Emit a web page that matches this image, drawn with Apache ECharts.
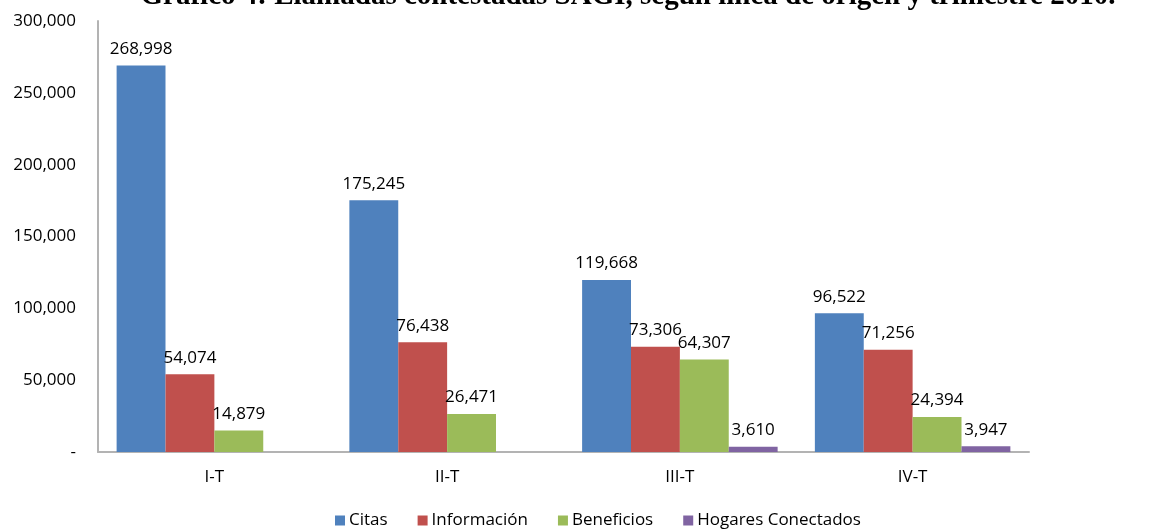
<!DOCTYPE html>
<html>
<head>
    <meta charset="utf-8">
    <title></title>
    <style>
        html,body{ margin:0; padding:0; background:#fff; }
    </style>
</head>
<body>
<script src="https://cdn.jsdelivr.net/npm/echarts@6/dist/echarts.min.js"></script>
<div id="main" style="width:1153px;height:529px;"></div>
<script type="text/javascript">
    // datos
    var trimestres = ['I-T', 'II-T', 'III-T', 'IV-T'];
    var citas = [268998, 175245, 119668, 96522];
    var informacion = [54074, 76438, 73306, 71256];
    var beneficios = [14879, 26471, 64307, 24394];
    var hogares = [null, null, 3610, 3947];

    var fuente = 'Open Sans';
    var fmt = function (v) {
        return v === 0 ? '-' : v.toLocaleString('en-US');
    };

    function serie(nombre, datos, color) {
        return {
            name: nombre,
            type: 'bar',
            data: datos,
            barGap: 0,
            barCategoryGap: '16%',
            itemStyle: { color: color },
            label: {
                show: true,
                position: 'top',
                distance: 8,
                color: '#000',
                fontFamily: fuente,
                fontSize: 17,
                formatter: function (p) { return fmt(p.value); }
            }
        };
    }

    var myChart = echarts.init(document.getElementById('main'));
    myChart.setOption({
        animation: false,
        title: {
            text: 'Gráfico 4: Llamadas contestadas SAGI, según línea de origen y trimestre 2010.',
            left: 623,
            textAlign: 'center',
            top: -23,
            textStyle: {
                fontFamily: 'Liberation Serif',
                fontWeight: 'bold',
                fontSize: 29,
                color: '#000'
            }
        },
        legend: {
            bottom: -5,
            left: 330,
            itemWidth: 10,
            itemHeight: 10,
            itemGap: 30,
            icon: 'rect',
            textStyle: { fontFamily: fuente, fontSize: 17, color: '#000', padding: [0, 0, 0, -1] },
            data: ['Citas', 'Información', 'Beneficios', 'Hogares Conectados']
        },
        grid: { left: 98, right: 124, top: 21, bottom: 77 },
        xAxis: {
            type: 'category',
            data: trimestres,
            axisLine: { lineStyle: { color: '#b3b3b3', width: 2 } },
            axisTick: { show: false },
            axisLabel: { color: '#000', fontFamily: fuente, fontSize: 17, margin: 17 }
        },
        yAxis: {
            type: 'value',
            min: 0,
            max: 300000,
            interval: 50000,
            splitLine: { show: false },
            axisLine: { show: true, lineStyle: { color: '#b3b3b3', width: 2 } },
            axisTick: { show: false },
            axisLabel: { color: '#000', fontFamily: fuente, fontSize: 17, margin: 22, formatter: fmt }
        },
        series: [
            serie('Citas', citas, '#4f81bd'),
            serie('Información', informacion, '#c0504d'),
            serie('Beneficios', beneficios, '#9bbb59'),
            serie('Hogares Conectados', hogares, '#8064a2')
        ]
    });
</script>
</body>
</html>
